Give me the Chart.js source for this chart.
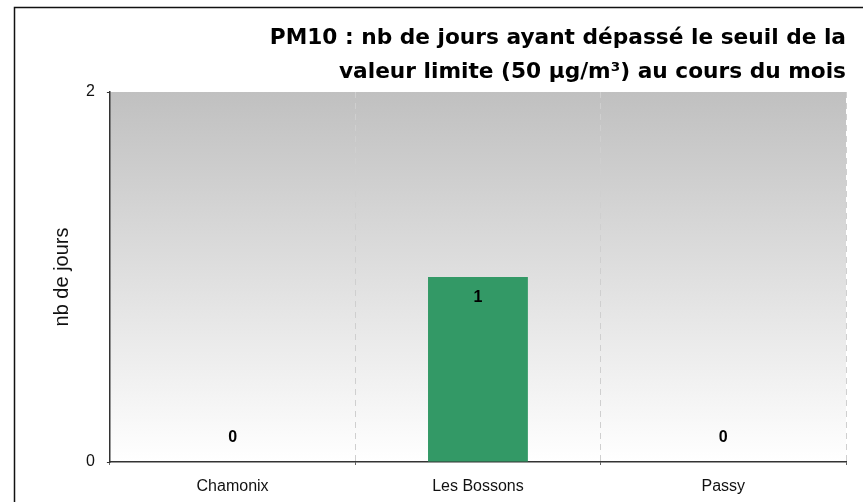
<!DOCTYPE html>
<html>
<head>
<meta charset="utf-8">
<style>
  html, body { margin: 0; padding: 0; background: #fff; }
  #wrap { width: 863px; height: 502px; }
</style>
</head>
<body>
<div id="wrap"><canvas id="pmChart" width="863" height="502"></canvas></div>
<script src="https://cdn.jsdelivr.net/npm/chart.js"></script>
<script>
    const sites = ['Chamonix', 'Les Bossons', 'Passy'];
    const daysOver = [0, 1, 0];
    const titleLines = ['PM10 : nb de jours ayant dépassé le seuil de la', 'valeur limite (50 µg/m³) au cours du mois'];

    // grey-to-white fill behind the bars
    const plotBackground = {
        id: 'plotBackground',
        beforeDraw(chart) {
            const { ctx, chartArea: a } = chart;
            const g = ctx.createLinearGradient(0, a.top, 0, a.bottom);
            g.addColorStop(0, '#c0c0c0');
            g.addColorStop(1, '#ffffff');
            ctx.save();
            ctx.fillStyle = g;
            ctx.fillRect(a.left, a.top, a.right - a.left, a.bottom - a.top);
            ctx.restore();
        },
        afterDraw(chart) {
            // outer frame, cut off on the right and bottom like the source
            const ctx = chart.ctx;
            ctx.save();
            ctx.strokeStyle = '#111';
            ctx.lineWidth = 1.5;
            ctx.beginPath();
            ctx.moveTo(14.5, chart.height + 5);
            ctx.lineTo(14.5, 7.5);
            ctx.lineTo(chart.width + 5, 7.5);
            ctx.stroke();
            ctx.restore();
        }
    };

    const valueLabels = {
        id: 'valueLabels',
        afterDatasetsDraw(chart) {
            const ctx = chart.ctx;
            const meta = chart.getDatasetMeta(0);
            ctx.save();
            ctx.font = 'bold 16px "Liberation Sans", Arial, sans-serif';
            ctx.fillStyle = '#000';
            ctx.textAlign = 'center';
            ctx.textBaseline = 'middle';
            meta.data.forEach((bar, i) => {
                const v = daysOver[i];
                const y = v > 0 ? bar.y + 21 : bar.y - 24;
                ctx.fillText(String(v), bar.x, y);
            });
            ctx.restore();
        }
    };

    new Chart(document.getElementById('pmChart').getContext('2d'), {
        type: 'bar',
        data: {
            labels: sites,
            datasets: [{
                data: daysOver,
                backgroundColor: '#339966',
                borderWidth: 0,
                categoryPercentage: 1,
                barPercentage: 0.407
            }]
        },
        plugins: [plotBackground, valueLabels],
        options: {
            responsive: false,
            animation: false,
            layout: { padding: { left: 50, right: 17, top: 10, bottom: 0 } },
            plugins: {
                legend: { display: false },
                tooltip: { enabled: false },
                title: {
                    display: true,
                    text: titleLines,
                    align: 'end',
                    color: '#000',
                    font: { family: '"DejaVu Sans", Verdana, sans-serif', size: 21.7, weight: 'bold', lineHeight: 34 / 21.7 },
                    padding: { top: 11, bottom: 3 }
                }
            },
            scales: {
                x: {
                    afterFit(scale) { scale.height = 40; },
                    grid: {
                        offset: true,
                        color: '#cfcfcf',
                        tickBorderDash: [1, 0],
                        tickColor: '#333',
                        tickLength: 3
                    },
                    border: { display: true, color: '#333', width: 1.5, dash: [6, 5] },
                    ticks: {
                        color: '#111',
                        padding: 12,
                        font: { family: '"Liberation Sans", Arial, sans-serif', size: 16 }
                    }
                },
                y: {
                    min: 0,
                    max: 2,
                    ticks: {
                        stepSize: 2,
                        color: '#111',
                        padding: 12,
                        font: { family: '"Liberation Sans", Arial, sans-serif', size: 16 }
                    },
                    grid: { drawOnChartArea: false, tickColor: '#333', tickLength: 3 },
                    border: { display: true, color: '#333', width: 1.5 },
                    title: {
                        display: true,
                        text: 'nb de jours',
                        color: '#111',
                        padding: { top: 0, bottom: 0 },
                        font: { family: '"Liberation Sans", Arial, sans-serif', size: 20 }
                    }
                }
            }
        }
    });
</script>
</body>
</html>
